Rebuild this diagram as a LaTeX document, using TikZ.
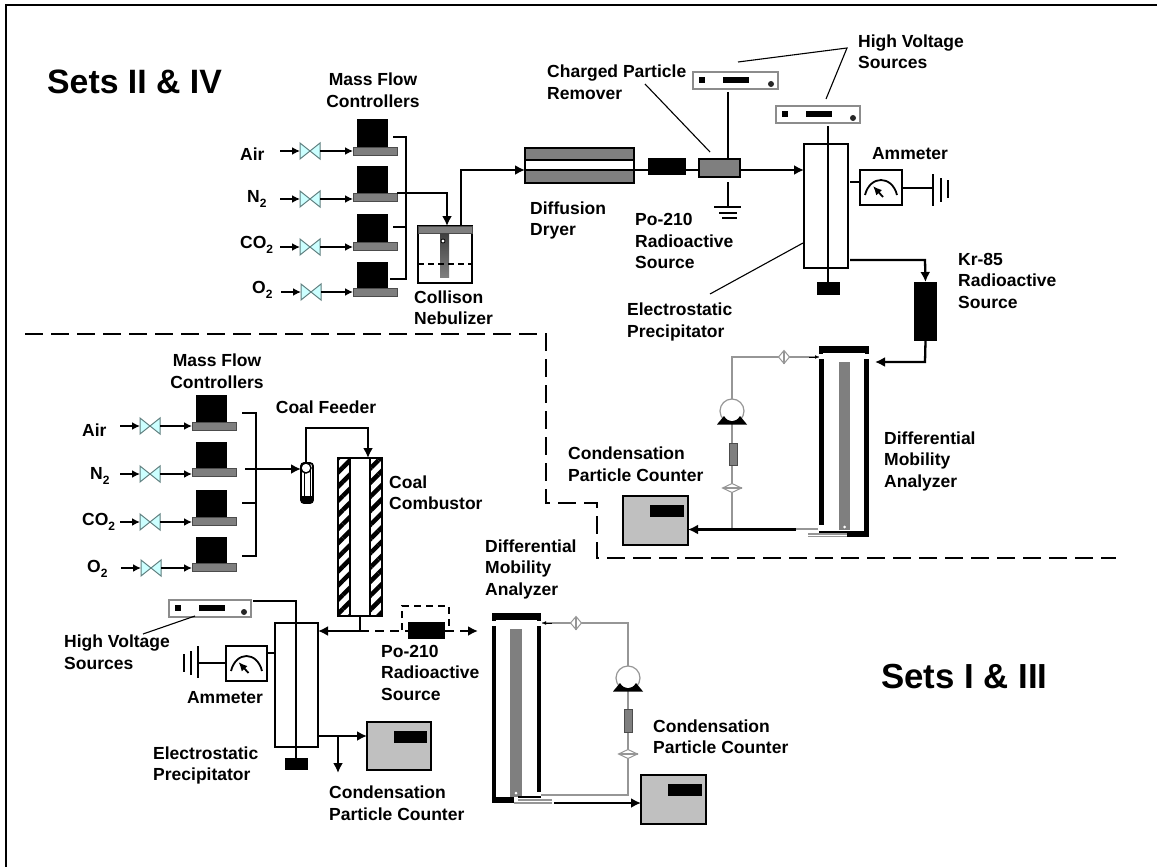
\documentclass[tikz,border=0pt]{standalone}
\usepackage{fontspec}
\setmainfont{Liberation Sans}
\usetikzlibrary{arrows.meta,patterns.meta,shapes.geometric}
\definecolor{bandgray}{HTML}{7F7F7F}
\definecolor{cpcgray}{HTML}{C0C0C0}
\definecolor{valvecyan}{HTML}{CCFFFF}
\definecolor{valveedge}{HTML}{5F7F7F}
\definecolor{loopgray}{HTML}{969696}
\tikzset{
	lbl/.style={anchor=west,align=left,inner sep=0pt,font=\bfseries\fontsize{17.5}{21.5}\selectfont},
	setlbl/.style={anchor=west,inner sep=0pt,font=\bfseries\fontsize{33.8}{38}\selectfont},
	part/.style={inner sep=0pt,outer sep=0pt},
	blk/.style={part,fill=black},
	band/.style={part,fill=bandgray,draw=black!70,line width=0.8pt},
	wire/.style={line width=2.3pt},
	flow/.style={line width=1.6pt,-{Latex[length=8pt,width=8pt]}},
	pipe/.style={line width=2.3pt,-{Latex[length=10pt,width=10pt]}},
	loopline/.style={line width=1.1pt,draw=loopgray},
	leader/.style={line width=1.1pt},
	divider/.style={line width=2.5pt,dash pattern=on 18pt off 8pt},
}
\newcommand{\subtwo}{\raisebox{-5.5pt}{\fontsize{12}{12}\selectfont 2}}
% corners -> node
\newcommand{\partbox}[6]{\node[part,#2,minimum width={((#5)-(#3))*1pt},minimum height={((#6)-(#4))*1pt}] (#1) at ({((#3)+(#5))/2},{((#4)+(#6))/2}) {};}
\newcommand{\valve}[3]{
	\node[part,minimum width=20pt,minimum height=16pt] (#1) at (#2,#3) {};
	\filldraw[fill=valvecyan,draw=valveedge,line width=1pt] (#1.north west) -- (#1.center) -- (#1.south west) -- cycle (#1.north east) -- (#1.center) -- (#1.south east) -- cycle;
}
% one flow controller on its gas line
\newcommand{\mfc}[7]{
	\partbox{#1top}{blk}{#3}{#4}{#3+31}{#4+#5}
	\partbox{#1}{band}{#3-4}{#4+#5}{#3+40}{#4+#5+8}
	\valve{#1v}{#6}{#7}
	\coordinate (#1in) at (#6-30,#7);
	\draw[flow] (#1in) -- (#1v.west);
	\draw[flow] (#1v.east) -- (#1.west |- #1v);
}
\newcommand{\hvsource}[5]{
	\partbox{#1}{draw=black!45,fill=white,line width=1.4pt}{#2}{#3}{#4}{#5}
	\partbox{#1sq}{blk}{#2+6}{#3+5}{#2+12}{#3+11}
	\partbox{#1bar}{blk}{#2+30}{#3+5}{#2+56}{#3+11}
	\node[part,circle,fill=black!85,minimum size=6pt] (#1dot) at (#4-7,#5-5) {};
}
\newcommand{\cpc}[5]{
	\partbox{#1}{draw=black,fill=cpcgray,line width=2pt}{#2}{#3}{#4}{#5}
	\partbox{#1bar}{blk}{#2+27}{#3+9}{#4-4}{#3+21}
}
\newcommand{\ammeter}[5]{
	\partbox{#1}{draw=black,fill=white,line width=2pt}{#2}{#3}{#4}{#5}
	\coordinate (#1p) at ({#2+5},{#3+25});
	\coordinate (#1q) at ({#4-5},{#3+25});
	\draw[line width=1.8pt] (#1p) .. controls ({#2+10},{#3+5}) and ({#4-10},{#3+5}) .. (#1q);
	\draw[line width=1.8pt,-{Latex[length=9pt,width=8pt]}] ({(#2+#4)/2+2},{#3+27}) -- ({(#2+#4)/2-8},{#3+16});
}
\newcommand{\pump}[3]{
	\node[part,circle,draw=loopgray,fill=white,line width=1.2pt,minimum size=24pt] (#1) at (#2,#3) {};
	\fill[black] (#2-15,#3+13.5) -- (#2-8,#3+5) .. controls (#2-4,#3+12) and (#2+4,#3+12) .. (#2+8,#3+5) -- (#2+15,#3+13.5) -- cycle;
}
\begin{document}
\begin{tikzpicture}[x=1pt,y=-1pt]
	\useasboundingbox (0,0) rectangle (1157,867);
	\draw[line width=2pt] (6,867) -- (6,5) -- (1157,5);
	% upper set
	\node[setlbl] (setsa) at (47,82) {Sets II \& IV};
	\node[lbl,align=center,anchor=center] (mfclbla) at (373,90) {Mass Flow\\Controllers};
	\node[lbl] (aira) at (240,154) {Air};
	\node[lbl] (n2a) at (247,199) {N\subtwo};
	\node[lbl] (co2a) at (240,245) {CO\subtwo};
	\node[lbl] (o2a) at (252,290) {O\subtwo};
	\mfc{ma}{1}{357}{119}{28}{310}{151}
	\mfc{mb}{2}{357}{166}{27}{310}{199}
	\mfc{mc}{3}{357}{214}{28}{310}{247}
	\mfc{md}{4}{357}{262}{26}{311}{292}
	\coordinate (coltop) at (406,137);
	\coordinate (colbot) at (406,279);
	\coordinate (colin) at (393,137);
	\coordinate (colmid) at (393,227);
	\coordinate (colout) at (390,279);
	\draw[wire] (colin) -- (coltop) -- (colbot) -- (colout);
	\draw[wire] (colmid) -- (colmid -| coltop);
	% nebulizer
	\partbox{neb}{draw=black,fill=white,line width=1.6pt}{418}{226}{472}{283}
	\partbox{nebcap}{band}{418}{226}{472}{233}
	\partbox{nebtube}{part,top color=black!75,bottom color=bandgray}{440}{233}{449}{277}
	\node[part,circle,draw=black,fill=white,line width=.8pt,minimum size=4pt] (nebdot) at (443,241) {};
	\draw[line width=1.3pt,dash pattern=on 6pt off 4pt] (neb.west |- 0,264) -- (neb.east |- 0,264);
	\coordinate (nebturn) at (447,193);
	\draw[pipe] (mb.east |- nebturn) -- (nebturn) -- (nebturn |- neb.north);
	% dryer
	\partbox{dryer}{draw=black,fill=white,line width=2.4pt}{525}{148}{634}{183}
	\partbox{dryertop}{band,draw=none}{526}{149}{633}{160}
	\partbox{dryerbot}{band,draw=none}{526}{170}{633}{182}
	\draw[line width=2pt] (dryertop.south west) -- (dryertop.south east);
	\coordinate (dryerin) at (525,170);
	\coordinate (dryerline) at (634,170);
	\draw[line width=2pt] (dryer.west |- dryerin) -- (dryerline);
	\draw[pipe] (461,226) -- (461,170) -- (dryerin);
	\node[lbl] (dryerlbl) at (530,220.5) {Diffusion\\Dryer};
	% charged particle remover
	\partbox{po}{blk}{648}{158}{686}{175}
	\partbox{cpr}{draw=black,fill=bandgray,line width=2pt}{699}{159}{740}{177}
	\draw[wire] (dryerline) -- (po.west |- dryerline);
	\draw[wire] (po.east |- dryerline) -- (cpr.west |- dryerline);
	\hvsource{hva}{693}{72}{778}{89}
	\coordinate (hvaend) at (728,92);
	\coordinate (cprgnd) at (728,182);
	\coordinate (gnda) at (728,207);
	\draw[wire] (hvaend) -- (hvaend |- cpr.north);
	\draw[wire] (cprgnd) -- (gnda);
	\draw[wire] (714,207) -- (741,207);
	\draw[wire] (719,213) -- (737,213);
	\draw[wire] (722,218) -- (737,218);
	\node[lbl] (cprlbl) at (547,82) {Charged Particle\\Remover};
	\draw[leader] (645,84) -- (710,152);
	\node[lbl] (polbla) at (635,241) {Po-210\\Radioactive\\Source};
	% precipitator
	\partbox{espa}{draw=black,fill=white,line width=1.8pt}{804}{144}{848}{268}
	\draw[pipe] (cpr.east |- dryerline) -- (espa.west |- dryerline);
	\hvsource{hvb}{776}{106}{860}{123}
	\partbox{esptrapa}{blk}{817}{282}{840}{295}
	\coordinate (hvbend) at (828,126);
	\draw[wire] (hvbend) -- (esptrapa.north -| hvbend);
	\node[lbl] (hvlbla) at (858,51.5) {High Voltage\\Sources};
	\coordinate (hvfork) at (847,48);
	\draw[leader] (738,62) -- (hvfork) -- (826,99);
	\ammeter{ama}{860}{170}{902}{205}
	\node[lbl,anchor=center] (amlbla) at (910,154) {Ammeter};
	\draw[wire] (850,182) -- (ama.west |- 0,182);
	\coordinate (gndb) at (933,188);
	\draw[wire] (ama.east |- gndb) -- (gndb);
	\draw[wire] (933,174) -- (933,206);
	\draw[wire] (941,178) -- (941,202);
	\draw[wire] (948,180) -- (948,198);
	\node[lbl] (eplbla) at (627,322) {Electrostatic\\Precipitator};
	\draw[leader] (710,294) -- (803,243);
	\node[lbl] (nebuliz) at (414,307.5) {Collison\\Nebulizer};
	% kr source and upper analyzer
	\partbox{kr}{blk}{914}{282}{937}{341}
	\coordinate (espout) at (850,260);
	\draw[pipe] (espout) -- (925,260) -- (kr.north);
	\node[lbl] (krlbl) at (958,280.5) {Kr-85\\Radioactive\\Source};
	\partbox{dmacapa}{blk}{819}{346}{869}{353}
	\partbox{dmaleft}{blk}{819}{359}{823.5}{525}
	\partbox{dmaright}{blk}{864}{359}{869}{537}
	\partbox{dmarod}{band,draw=none}{839}{362}{850}{530}
	\partbox{dmabot}{blk}{847}{531}{869}{537}
	\partbox{dmabotb}{blk}{819}{531}{847}{533.5}
	\fill (819,350) rectangle (823,354);
	\fill (865,350) rectangle (869,354);
	\node[part,circle,fill=white,minimum size=3pt] (dmadot) at (844.5,527) {};
	\coordinate (krturn) at (925,362);
	\draw[pipe] (kr.south) -- (krturn) -- (875,362);
	\draw[loopline] (808,534) -- (847,534);
	\draw[loopline] (808,536.5) -- (847,536.5);
	\coordinate (looptl) at (732,357);
	\coordinate (loopbl) at (732,529);
	\coordinate (looptr) at (819,357);
	\coordinate (loopbr) at (818,529);
	\draw[loopline] (loopbr) -- (loopbl) -- (looptl) -- (looptr);
	\draw[-{Latex[length=4pt,width=4pt]},draw=black,line width=.8pt] (809,357) -- (looptr);
	\node[part,diamond,draw=loopgray,fill=white,line width=1pt,minimum width=11pt,minimum height=13pt] (filta) at (784,357) {};
	\draw[loopline] (filta.north) -- (filta.south);
	\pump{pumpa}{732}{411}
	\partbox{flowa}{band}{729}{443}{737}{465}
	\node[part,diamond,draw=loopgray,fill=white,line width=1pt,minimum width=19pt,minimum height=9pt] (filtb) at (732,488) {};
	\draw[loopline] (filtb.west) -- (filtb.east);
	\cpc{cpca}{623}{496}{688}{545}
	\coordinate (cpcin) at (796,529.5);
	\draw[pipe] (cpcin) -- (cpca.east |- cpcin);
	\node[lbl] (cpclbla) at (568,464) {Condensation\\Particle Counter};
	\node[lbl] (dmalbla) at (884,461) {Differential\\Mobility\\Analyzer};
	% dividing line
	\draw[divider] (25,334) -- (546,334) -- (546,503) -- (597,503) -- (597,558) -- (1116,558);
	% lower set
	\node[setlbl,font=\bfseries\fontsize{34.8}{38}\selectfont] (setsb) at (881,677) {Sets I \& III};
	\node[lbl,align=center,anchor=center] (mfclblb) at (217,371) {Mass Flow\\Controllers};
	\node[lbl] (airb) at (82,430) {Air};
	\node[lbl] (n2b) at (90,476) {N\subtwo};
	\node[lbl] (co2b) at (82,522) {CO\subtwo};
	\node[lbl] (o2b) at (87,569) {O\subtwo};
	\mfc{me}{1}{196}{395}{27}{150}{426}
	\mfc{mf}{2}{196}{442}{26}{150}{474}
	\mfc{mg}{3}{196}{490}{27}{150}{522}
	\mfc{mh}{4}{196}{537}{26}{151}{568}
	\coordinate (coltopb) at (256,413);
	\coordinate (colbotb) at (256,556);
	\draw[wire] (242,413) -- (coltopb) -- (colbotb) -- (242,556);
	\draw[wire] (242,503) -- (256,503);
	\node[lbl,anchor=center] (feedlbl) at (326,407) {Coal Feeder};
	% coal feeder
	\node[part,rectangle,rounded corners=3pt,draw=black,fill=white,line width=1.8pt,minimum width=12pt,minimum height=40pt] (feeder) at (307,483) {};
	\fill[black] (301,496) rectangle (313,503);
	\draw[line width=1pt] (304,470) -- (304,496);
	\draw[line width=1pt] (310,470) -- (310,496);
	\node[part,circle,draw=black,fill=white,line width=1.4pt,minimum size=10pt] (feedtop) at (306,468) {};
	\draw[pipe] (245,469) -- (feedtop.west |- 0,469);
	% combustor
	\partbox{combl}{draw=black,line width=2pt,pattern={Lines[angle=45,distance=10pt,line width=4.5pt]}}{338}{458}{350}{616}
	\partbox{combr}{draw=black,line width=2pt,pattern={Lines[angle=45,distance=10pt,line width=4.5pt]}}{370}{458}{382}{616}
	\draw[line width=2pt] (combl.north east) -- (combr.north west);
	\draw[line width=2pt] (combl.south east) -- (combr.south west);
	\coordinate (feedturn) at (306,428);
	\draw[pipe] (feedtop.north) -- (feedturn) -- (368,428) -- (368,458);
	\node[lbl] (comblbl) at (389,492.5) {Coal\\Combustor};
	% lower precipitator
	\partbox{espb}{draw=black,fill=white,line width=1.8pt}{275}{623}{318}{747}
	\partbox{esptrapb}{blk}{285}{758}{308}{770}
	\hvsource{hvc}{169}{600}{251}{617}
	\coordinate (hvcturn) at (296,601);
	\draw[wire] (253,601) -- (hvcturn) -- (esptrapb.north -| hvcturn);
	\node[lbl] (hvlblb) at (64,652) {High Voltage\\Sources};
	\draw[leader] (143,634) -- (195,616);
	\ammeter{amb}{226}{646}{267}{681}
	\node[lbl,anchor=center] (amlblb) at (225,698) {Ammeter};
	\draw[wire] (amb.east |- 0,653) -- (espb.west |- 0,653);
	\coordinate (gndc) at (198,663);
	\draw[wire] (amb.west |- gndc) -- (gndc);
	\draw[wire] (198,646) -- (198,678);
	\draw[wire] (191,651) -- (191,675);
	\draw[wire] (184,654) -- (184,672);
	\node[lbl] (eplblb) at (153,765.5) {Electrostatic\\Precipitator};
	% outlet of combustor
	\coordinate (combout) at (360,631);
	\draw[wire] (360,616) -- (combout);
	\draw[pipe] (combout) -- (espb.east |- combout);
	\partbox{pob}{blk}{408}{622}{445}{639}
	\draw[line width=2.3pt,dash pattern=on 9pt off 6pt] (combout) -- (408,631);
	\draw[line width=2.3pt,dash pattern=on 9pt off 6pt,-{Latex[length=10pt,width=10pt]}] (pob.east |- combout) -- (478,631);
	\draw[line width=1.8pt,dash pattern=on 7pt off 5pt] (402,630) -- (402,606) -- (449,606) -- (449,630);
	\node[lbl] (polblb) at (381,672.5) {Po-210\\Radioactive\\Source};
	\cpc{cpcb}{367}{722}{431}{770}
	\coordinate (cpcbin) at (338,736);
	\draw[pipe] (espb.east |- cpcbin) -- (cpcb.west |- cpcbin);
	\draw[pipe] (cpcbin) -- (338,773);
	\node[lbl] (cpclblb) at (329,803) {Condensation\\Particle Counter};
	% lower analyzer
	\partbox{dmacapb}{blk}{492}{613}{541}{620}
	\partbox{dmaleftb}{blk}{492}{626}{496}{803}
	\partbox{dmarightb}{blk}{537}{626}{541}{792}
	\partbox{dmarodb}{band,draw=none}{510}{629}{522}{797}
	\partbox{dmabotc}{blk}{492}{797}{514}{803}
	\partbox{dmabotd}{blk}{518}{795.5}{541}{798}
	\fill (492,617) rectangle (496,621);
	\fill (537,617) rectangle (541,621);
	\node[part,circle,fill=white,minimum size=3pt] (dmadotb) at (516,793) {};
	\draw[loopline] (518,800) -- (552,800);
	\draw[loopline] (514,803) -- (552,803);
	\coordinate (looptlb) at (628,623);
	\coordinate (loopblb) at (628,795);
	\coordinate (looptrb) at (542,623);
	\coordinate (loopbrb) at (541,795);
	\draw[loopline] (loopbrb) -- (loopblb) -- (looptlb) -- (looptrb);
	\draw[-{Latex[length=4pt,width=4pt]},draw=black,line width=.8pt] (552,623) -- (looptrb);
	\node[part,diamond,draw=loopgray,fill=white,line width=1pt,minimum width=11pt,minimum height=13pt] (filtc) at (576,623) {};
	\draw[loopline] (filtc.north) -- (filtc.south);
	\pump{pumpb}{628}{678}
	\partbox{flowb}{band}{624}{709}{632}{732}
	\node[part,diamond,draw=loopgray,fill=white,line width=1pt,minimum width=19pt,minimum height=9pt] (filtd) at (628,754) {};
	\draw[loopline] (filtd.west) -- (filtd.east);
	\cpc{cpcc}{641}{775}{706}{824}
	\draw[pipe] (554,803) -- (cpcc.west |- 0,803);
	\node[lbl] (cpclblc) at (653,736.5) {Condensation\\Particle Counter};
	\node[lbl] (dmalblb) at (485,569) {Differential\\Mobility\\Analyzer};
\end{tikzpicture}
\end{document}
